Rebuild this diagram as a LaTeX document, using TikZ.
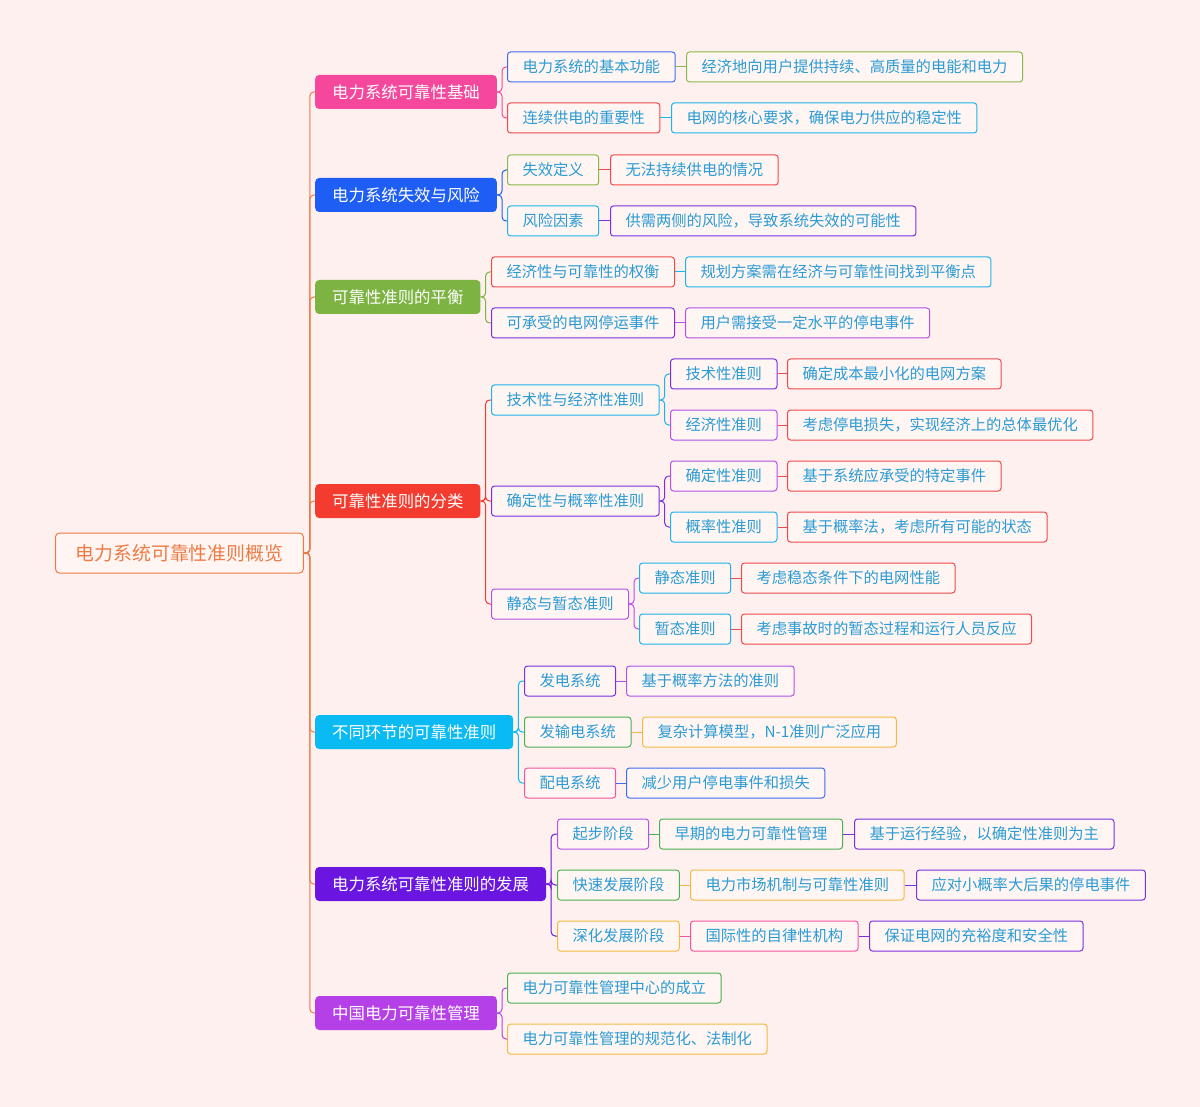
\documentclass[tikz,border=0pt]{standalone}
\usepackage{fontspec}
\setmainfont{Noto Sans CJK SC}
\usetikzlibrary{positioning}
\definecolor{bg}{HTML}{FDF0EE}
\definecolor{leafbg}{HTML}{FFF6F4}
\definecolor{leaftxt}{HTML}{2A9BD3}
\definecolor{corg}{HTML}{EE7A45}
\definecolor{cblue}{HTML}{3D6DF2}
\definecolor{cred}{HTML}{F04A4A}
\definecolor{colive}{HTML}{8BB84A}
\definecolor{cgreen}{HTML}{4CAF50}
\definecolor{cyel}{HTML}{F5B942}
\definecolor{cpur}{HTML}{7B2FE0}
\definecolor{cmag}{HTML}{B550E8}
\definecolor{ccyan}{HTML}{1EB4E8}
\definecolor{cpink}{HTML}{F2559E}
\definecolor{m1}{HTML}{F5479B}
\definecolor{m2}{HTML}{1F5EF5}
\definecolor{m3}{HTML}{7CB342}
\definecolor{m4}{HTML}{F33C2F}
\definecolor{m5}{HTML}{0ABAF2}
\definecolor{m6}{HTML}{6A16E0}
\definecolor{m7}{HTML}{B540E8}
\tikzset{
  leaf/.style={draw=#1, fill=leafbg, rounded corners=3pt, line width=1pt, text=leaftxt,
    font=\fontsize{15.3}{15}\selectfont, inner xsep=15pt, minimum height=30pt, anchor=west},
  main/.style={fill=#1, rounded corners=4pt, text=white,
    font=\fontsize{16.4}{16}\selectfont, inner xsep=17pt, minimum height=34pt, anchor=west},
  link/.style={draw=#1, line width=1pt, rounded corners=4pt}
}
\begin{document}
\begin{tikzpicture}[x=1pt,y=-1pt]
\fill[bg] (0,0) rectangle (1200,1107);
\useasboundingbox (0,0) rectangle (1200,1107);

% root
\node[draw=corg, fill=leafbg, rounded corners=4pt, line width=1pt, text=corg,
  font=\fontsize{18.9}{19}\selectfont, inner xsep=20pt, minimum height=40pt, anchor=west]
  (r) at (55,553) {电力系统可靠性准则概览};

% main branches
\node[main=m1] (a) at (315,92) {电力系统可靠性基础};
\node[main=m2] (b) at (315,195) {电力系统失效与风险};
\node[main=m3] (c) at (315,297) {可靠性准则的平衡};
\node[main=m4] (d) at (315,501) {可靠性准则的分类};
\node[main=m5] (e) at (315,732) {不同环节的可靠性准则};
\node[main=m6] (f) at (315,884) {电力系统可靠性准则的发展};
\node[main=m7] (g) at (315,1013) {中国电力可靠性管理};

% group a
\node[leaf=cblue] (a1) at (507,67) {电力系统的基本功能};
\node[leaf=colive] (a1x) at (686,67) {经济地向用户提供持续、高质量的电能和电力};
\node[leaf=cred] (a2) at (507,118) {连续供电的重要性};
\node[leaf=ccyan] (a2x) at (671,118) {电网的核心要求，确保电力供应的稳定性};
% group b
\node[leaf=colive] (b1) at (507,170) {失效定义};
\node[leaf=cred] (b1x) at (610,170) {无法持续供电的情况};
\node[leaf=ccyan] (b2) at (507,221) {风险因素};
\node[leaf=cpur] (b2x) at (610,221) {供需两侧的风险，导致系统失效的可能性};
% group c
\node[leaf=cred] (c1) at (491,272) {经济性与可靠性的权衡};
\node[leaf=ccyan] (c1x) at (685,272) {规划方案需在经济与可靠性间找到平衡点};
\node[leaf=cpur] (c2) at (491,323) {可承受的电网停运事件};
\node[leaf=cmag] (c2x) at (685,323) {用户需接受一定水平的停电事件};
% group d
\node[leaf=ccyan] (d1) at (491,400) {技术性与经济性准则};
\node[leaf=cpur] (d11) at (670,374) {技术性准则};
\node[leaf=cred] (d11x) at (787,374) {确定成本最小化的电网方案};
\node[leaf=cmag] (d12) at (670,425) {经济性准则};
\node[leaf=cred] (d12x) at (787,425) {考虑停电损失，实现经济上的总体最优化};
\node[leaf=cpur] (d2) at (491,501) {确定性与概率性准则};
\node[leaf=cmag] (d21) at (670,476) {确定性准则};
\node[leaf=cred] (d21x) at (787,476) {基于系统应承受的特定事件};
\node[leaf=ccyan] (d22) at (670,527) {概率性准则};
\node[leaf=cred] (d22x) at (787,527) {基于概率法，考虑所有可能的状态};
\node[leaf=cmag] (d3) at (491,604) {静态与暂态准则};
\node[leaf=ccyan] (d31) at (639,578) {静态准则};
\node[leaf=cred] (d31x) at (741,578) {考虑稳态条件下的电网性能};
\node[leaf=ccyan] (d32) at (639,629) {暂态准则};
\node[leaf=cred] (d32x) at (741,629) {考虑事故时的暂态过程和运行人员反应};
% group e
\node[leaf=cpur] (e1) at (524,681) {发电系统};
\node[leaf=cmag] (e1x) at (626,681) {基于概率方法的准则};
\node[leaf=cgreen] (e2) at (524,732) {发输电系统};
\node[leaf=cyel] (e2x) at (642,732) {复杂计算模型，N-1准则广泛应用};
\node[leaf=cpink] (e3) at (524,783) {配电系统};
\node[leaf=cblue] (e3x) at (626,783) {减少用户停电事件和损失};
% group f
\node[leaf=cmag] (f1) at (557,834) {起步阶段};
\node[leaf=cgreen] (f1x) at (659,834) {早期的电力可靠性管理};
\node[leaf=cpur] (f1y) at (854,834) {基于运行经验，以确定性准则为主};
\node[leaf=cgreen] (f2) at (557,885) {快速发展阶段};
\node[leaf=cyel] (f2x) at (690,885) {电力市场机制与可靠性准则};
\node[leaf=cpur] (f2y) at (916,885) {应对小概率大后果的停电事件};
\node[leaf=cyel] (f3) at (557,936) {深化发展阶段};
\node[leaf=cpink] (f3x) at (690,936) {国际性的自律性机构};
\node[leaf=cpur] (f3y) at (869,936) {保证电网的充裕度和安全性};
% group g
\node[leaf=cgreen] (g1) at (507,988) {电力可靠性管理中心的成立};
\node[leaf=cyel] (g2) at (507,1039) {电力可靠性管理的规范化、法制化};

% connectors
\foreach \c in {a,b,c,d,e,f,g}
  \draw[link=corg] (r.east) -- ++(6,0) |- (\c.west);
\foreach \p/\cl/\kids in {a/m1/{a1,a2}, b/m2/{b1,b2}, c/m3/{c1,c2}, d/m4/{d1,d2,d3},
    e/m5/{e1,e2,e3}, f/m6/{f1,f2,f3}, g/m7/{g1,g2}, d1/ccyan/{d11,d12},
    d2/cpur/{d21,d22}, d3/cmag/{d31,d32}}
  \foreach \c in \kids
    \draw[link=\cl] (\p.east) -- ++(5,0) |- (\c.west);
\foreach \p/\c/\cl in {a1/a1x/colive, a2/a2x/ccyan, b1/b1x/cred, b2/b2x/cpur,
    c1/c1x/ccyan, c2/c2x/cmag, d11/d11x/cred, d12/d12x/cred, d21/d21x/cred,
    d22/d22x/cred, d31/d31x/cred, d32/d32x/cred, e1/e1x/cmag, e2/e2x/cyel,
    e3/e3x/cblue, f1/f1x/cgreen, f1x/f1y/cpur, f2/f2x/cyel, f2x/f2y/cpur,
    f3/f3x/cpink, f3x/f3y/cpur}
  \draw[link=\cl] (\p.east) -- (\c.west);
\end{tikzpicture}
\end{document}
